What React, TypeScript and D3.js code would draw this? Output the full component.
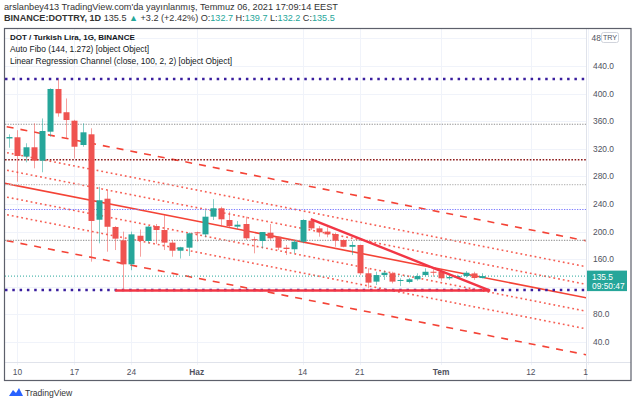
import React from 'react';
import * as d3 from 'd3';

const dates = [
  '2021-05-09','2021-05-10','2021-05-11','2021-05-12','2021-05-13','2021-05-14','2021-05-15','2021-05-16',
  '2021-05-17','2021-05-18','2021-05-19','2021-05-20','2021-05-21','2021-05-22','2021-05-23','2021-05-24',
  '2021-05-25','2021-05-26','2021-05-27','2021-05-28','2021-05-29','2021-05-30','2021-05-31','2021-06-01',
  '2021-06-02','2021-06-03','2021-06-04','2021-06-05','2021-06-06','2021-06-07','2021-06-08','2021-06-09',
  '2021-06-10','2021-06-11','2021-06-12','2021-06-13','2021-06-14','2021-06-15','2021-06-16','2021-06-17',
  '2021-06-18','2021-06-19','2021-06-20','2021-06-21','2021-06-22','2021-06-23','2021-06-24','2021-06-25',
  '2021-06-26','2021-06-27','2021-06-28','2021-06-29','2021-06-30','2021-07-01','2021-07-02','2021-07-03',
  '2021-07-04','2021-07-05','2021-07-06'
];
const opens = [
  335, 336.7, 308.7, 322.2, 302.8, 344.8, 406.7, 373,
  360.7, 325.5, 341, 217.2, 247.7, 206.7, 187.4, 152.6,
  194, 186.4, 208, 202.3, 184, 172.3, 176.7, 199,
  196, 221.6, 233.8, 216.8, 207.2, 211, 189, 186.4,
  198.4, 192.6, 176.7, 174.4, 185.3, 215.8, 204.7, 200,
  196.5, 187.8, 178, 180.6, 139.6, 127.5, 137, 139.6,
  128.5, 127, 130.9, 137, 141.8, 141.8, 132.3, 133.3,
  135.6, 139.4, 132.7
];
const highs = [
  341, 347, 328, 357, 364, 407.7, 421, 393,
  362, 357, 349.7, 265, 260, 208, 200, 200,
  203, 208, 211, 224, 187.8, 178, 198.5, 200,
  231, 247, 236, 229, 215.4, 221.6, 192.6, 199.4,
  211, 192.6, 180.6, 187.8, 218, 218, 208, 206.3,
  198.5, 188.8, 185.5, 181, 146.8, 141.8, 143.3, 141.8,
  132.3, 132.8, 139.6, 146.8, 145.3, 143.3, 136.5, 137.5,
  142.8, 141.8, 139.7
];
const lows = [
  321.6, 272.3, 300.4, 291.7, 286, 337.5, 366.5, 335,
  306, 323, 156.4, 183, 170.9, 173.3, 115.2, 144,
  163.6, 183, 182, 173.3, 163.6, 161, 164.6, 185.5,
  191.7, 216.8, 207, 206, 203.8, 187.8, 168.5, 175.8,
  187.8, 173.3, 166, 168.5, 183, 202.3, 192.6, 191.7,
  178, 177.3, 166, 137, 117.8, 122.6, 129.9, 125,
  121, 125, 128.9, 135.6, 134.6, 128.9, 130, 131.8,
  133.3, 130, 132.2
];
const closes = [
  337, 309.6, 322.2, 302.8, 345.8, 406.7, 371.4, 361.7,
  323, 343.9, 215.4, 245.4, 207, 189.8, 152.6, 196,
  186.4, 207.2, 202.3, 184, 172.3, 177.3, 197.5, 198,
  221.6, 233.8, 217.8, 208, 210, 190.3, 187.5, 199.4,
  190.3, 176.7, 174.8, 185.3, 216.8, 204.7, 199, 196,
  186.8, 178, 180.6, 139.6, 126, 137, 140.4, 127.5,
  129.9, 130.9, 135.6, 141.8, 140.4, 132.3, 134.2, 135.6,
  140.4, 132.7, 135.5
];

const priceTicks = [40, 80, 120, 160, 200, 240, 280, 320, 360, 400, 440];
const topClippedTickLabel = '48';
const topClippedTick = 480;
const timeTickDates = ['2021-05-10','2021-05-17','2021-05-24','2021-06-01','2021-06-14','2021-06-21','2021-07-01','2021-07-12','2021-07-19'];
const timeTickLabels = ['10','17','24','Haz','14','21','Tem','12','19'];
const timeTickBold = [false, false, false, true, false, false, true, false, false];

const fibLevels = [0, 0.236, 0.382, 0.5, 0.618, 0.786, 1];
const fibLow = 115.2;
const fibHigh = 421;

const regDates = ['2021-05-07', '2021-07-20'];
const regPrices = [273.4, 101.3];
const regOffsets = [-82.6, -45, -19.5, 0, 19.5, 45, 82.6];

const triDates = ['2021-05-22', '2021-07-07', '2021-06-15'];
const triPrices = [114.6, 114.6, 218];

const lastPrice = 135.5;

const W = 636, H = 403;
const plotL = 5, plotR = 586, plotT = 29, plotB = 362;
const GREEN = '#26a69a', RED = '#ef5350';
const FONT = '"Liberation Sans", Arial, sans-serif';

const pd = (s: string) => new Date(s + 'T00:00:00Z');

export default function App() {
  const x = d3.scaleUtc().domain([pd('2021-05-10'), pd('2021-07-06')]).range([17.4, 481.9]);
  const y = d3.scaleLinear().domain([40, 440]).range([342, 66]);

  const fibStyles = [
    { c: '#3a1f9e', w: 2.5, dash: '2.5 4.8' },
    { c: '#9e9e9e', w: 1.3, dash: '1.3 1.3' },
    { c: '#7c7cff', w: 1.2, dash: '1.3 1.3' },
    { c: '#bdbdbd', w: 1.2, dash: '1.3 1.3' },
    { c: '#8b1a1a', w: 1.6, dash: '1.6 1.6' },
    { c: '#8f8f8f', w: 1.2, dash: '1.3 1.3' },
    { c: '#3a1f9e', w: 2.5, dash: '2.5 4.8' },
  ];
  const regStyles = regOffsets.map((o) =>
    o === 0 ? { dash: undefined, w: 1.6, op: 1 } : Math.abs(o) > 60 ? { dash: '7 7', w: 1.6, op: 1 } : { dash: '1.8 3', w: 1.6, op: 0.85 }
  );

  const line = d3.line<[number, number]>().x((d) => d[0]).y((d) => d[1]);
  const bodyW = 6;
  const boxTop = y(lastPrice) - 5.5;
  const boxBot = boxTop + 20.5;

  return (
    <svg width={W} height={H} style={{ position: 'absolute', left: 0, top: 0, background: '#fff' }} fontFamily={FONT}>
      <defs>
        <clipPath id="plot"><rect x={plotL} y={plotT} width={plotR - plotL} height={plotB - plotT} /></clipPath>
        <clipPath id="taxis"><rect x={plotL} y={plotB} width={plotR + 2 - plotL} height={20} /></clipPath>
      </defs>
      <rect x={0} y={0} width={W} height={H} fill="#fff" />

      {/* header */}
      <text x={4} y={10} fontSize={9.2} fill="#333">arslanbey413 TradingView.com'da yayınlanmış, Temmuz 06, 2021 17:09:14 EEST</text>
      <text x={4} y={21} fontSize={9.1} fill="#333">
        <tspan fontWeight="bold">BINANCE:DOTTRY, 1D</tspan>
        <tspan> 135.5 </tspan>
        <tspan fill={GREEN}>▲</tspan>
        <tspan> +3.2 (+2.42%) O:</tspan><tspan fill={GREEN}>132.7</tspan>
        <tspan> H:</tspan><tspan fill={GREEN}>139.7</tspan>
        <tspan> L:</tspan><tspan fill={GREEN}>132.2</tspan>
        <tspan> C:</tspan><tspan fill={GREEN}>135.5</tspan>
      </text>

      {/* grid */}
      <g stroke="#f0f3fa" strokeWidth={1}>
        {priceTicks.map((p) => y(p) > plotT && y(p) < plotB ? (
          <line key={'h' + p} x1={plotL} x2={plotR} y1={Math.round(y(p)) + 0.5} y2={Math.round(y(p)) + 0.5} />
        ) : null)}
        <line x1={plotL} x2={plotR} y1={Math.round(y(topClippedTick)) + 0.5} y2={Math.round(y(topClippedTick)) + 0.5} />
        {timeTickDates.map((d) => (
          <line key={'v' + d} x1={Math.round(x(pd(d))) + 0.5} x2={Math.round(x(pd(d))) + 0.5} y1={plotT} y2={plotB + 3} />
        ))}
      </g>

      <g clipPath="url(#plot)">
        {regOffsets.map((o, i) => (
          <path key={'r' + i}
            d={line([[x(pd(regDates[0])), y(regPrices[0] + o)], [x(pd(regDates[1])), y(regPrices[1] + o)]]) || ''}
            stroke="#f44336" strokeWidth={regStyles[i].w} strokeDasharray={regStyles[i].dash}
            strokeOpacity={regStyles[i].op} fill="none" />
        ))}
        <line x1={plotL} x2={plotR} y1={y(lastPrice)} y2={y(lastPrice)} stroke={GREEN} strokeWidth={1} strokeDasharray="1 2" />
        {fibLevels.map((f, i) => {
          const yy = y(fibLow + (fibHigh - fibLow) * f);
          return <line key={'f' + i} x1={plotL} x2={plotR} y1={yy} y2={yy}
            stroke={fibStyles[i].c} strokeWidth={fibStyles[i].w} strokeDasharray={fibStyles[i].dash} />;
        })}
        {dates.map((d, i) => {
          const cx = Math.round(x(pd(d))) + 0.5;
          const up = closes[i] >= opens[i];
          const col = up ? GREEN : RED;
          const yt = y(Math.max(opens[i], closes[i]));
          const yb = y(Math.min(opens[i], closes[i]));
          return (
            <g key={d}>
              <line x1={cx} x2={cx} y1={y(highs[i])} y2={y(lows[i])} stroke={col} strokeOpacity={0.55} strokeWidth={1} />
              <rect x={cx - bodyW / 2} y={yt} width={bodyW} height={Math.max(1, yb - yt)} fill={col} />
            </g>
          );
        })}
        <path
          d={line([
            [x(pd(triDates[0])), y(triPrices[0])],
            [x(pd(triDates[1])), y(triPrices[1])],
            [x(pd(triDates[2])), y(triPrices[2])],
          ]) || ''}
          stroke="#f23645" strokeWidth={2.4} fill="none" strokeLinejoin="miter" />
      </g>

      {/* legend */}
      <text x={10} y={40} fontSize={8.0} fill="#131722" fontWeight="bold">DOT / Turkish Lira, 1G, BINANCE</text>
      <text x={10} y={52} fontSize={8.4} fill="#131722">Auto Fibo (144, 1.272) [object Object]</text>
      <text x={10} y={64} fontSize={8.4} fill="#131722">Linear Regression Channel (close, 100, 2, 2) [object Object]</text>

      {/* axes separators */}
      <line x1={plotL} x2={631} y1={plotB + 0.5} y2={plotB + 0.5} stroke="#e0e3eb" />
      <line x1={plotR + 0.5} x2={plotR + 0.5} y1={plotT} y2={381} stroke="#e0e3eb" />

      {/* price axis labels */}
      {priceTicks.map((p) => {
        const yy = y(p);
        if (yy < plotT || yy > plotB) return null;
        if (yy + 4 > boxTop && yy - 4 < boxBot) return null;
        return <text key={'pl' + p} x={593} y={yy + 3} fontSize={8.4} fill="#50535e">{d3.format('.1f')(p)}</text>;
      })}
      <text x={591.5} y={y(topClippedTick) + 3} fontSize={8.4} fill="#50535e">{topClippedTickLabel}</text>
      <rect x={601.5} y={32.5} width={17} height={10} rx={2} fill="#fff" stroke="#d1d4dc" />
      <text x={610} y={40.3} fontSize={7.2} fill="#50535e" textAnchor="middle">TRY</text>

      {/* last price label */}
      <rect x={587} y={boxTop} width={40} height={20.5} fill={GREEN} />
      <text x={592} y={y(lastPrice) + 3.5} fontSize={8.4} fill="#fff">135.5</text>
      <text x={592} y={y(lastPrice) + 12.5} fontSize={8.4} fill="#fff">09:50:47</text>

      {/* time axis labels */}
      <g clipPath="url(#taxis)">
        {timeTickDates.map((d, i) => (
          <text key={'tl' + d} x={x(pd(d))} y={374.5} fontSize={8.4} textAnchor="middle"
            fill="#50535e" fontWeight={timeTickBold[i] ? 'bold' : 'normal'}>{timeTickLabels[i]}</text>
        ))}
      </g>

      {/* frame */}
      <rect x={4.5} y={28.5} width={626.5} height={352} fill="none" stroke="#5d606b" strokeWidth={1.2} />

      {/* TradingView logo */}
      <g transform="translate(9,387)">
        <path d="M0,9 L4,3 L7,6 L10,1 L14,9 Z" fill="#2962ff" />
      </g>
      <text x={25} y={396} fontSize={8.6} fill="#333">TradingView</text>
    </svg>
  );
}
